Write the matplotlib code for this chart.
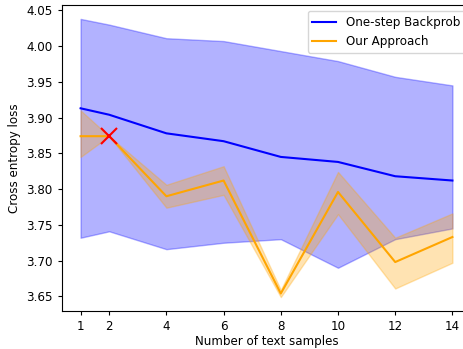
import matplotlib
matplotlib.use("Agg")
import matplotlib.pyplot as plt
import numpy as np

plt.rcParams['font.size'] = 8.6
plt.rcParams['xtick.major.size'] = 3.2
plt.rcParams['ytick.major.size'] = 3.2

# number of text samples
samples = [1, 2, 4, 6, 8, 10, 12, 14]

# one-step backprob: mean loss and spread
backprob_mean = [3.913, 3.904, 3.878, 3.867, 3.845, 3.838, 3.818, 3.812]
backprob_upper = [4.038, 4.030, 4.011, 4.007, 3.993, 3.979, 3.957, 3.945]
backprob_lower = [3.732, 3.741, 3.716, 3.725, 3.730, 3.690, 3.730, 3.745]

# our approach: mean loss and spread
ours_mean = [3.874, 3.874, 3.790, 3.812, 3.654, 3.796, 3.698, 3.733]
ours_upper = [3.910, 3.874, 3.806, 3.832, 3.659, 3.824, 3.732, 3.766]
ours_lower = [3.845, 3.874, 3.774, 3.792, 3.649, 3.765, 3.661, 3.697]

# point marked with a cross
mark_x = 2
mark_y = 3.874

fig = plt.figure(figsize=(4.63, 3.49), dpi=100)
ax = fig.add_axes([62 / 463, 38 / 349, 409 / 463, 306 / 349])

ax.plot(samples, backprob_mean, color='blue', label='One-step Backprob')
ax.fill_between(samples, backprob_lower, backprob_upper, color='blue', alpha=0.3)

ax.plot(samples, ours_mean, color='orange', label='Our Approach')
ax.fill_between(samples, ours_lower, ours_upper, color='orange', alpha=0.3)

ax.plot(mark_x, mark_y, 'x', color='red', markersize=12, markeredgewidth=1.5)

ax.set_xticks(samples)
ax.set_xlabel('Number of text samples', labelpad=1)
ax.set_ylabel('Cross entropy loss')
ax.legend(loc='upper right')

fig.savefig('out.png', dpi=100)
